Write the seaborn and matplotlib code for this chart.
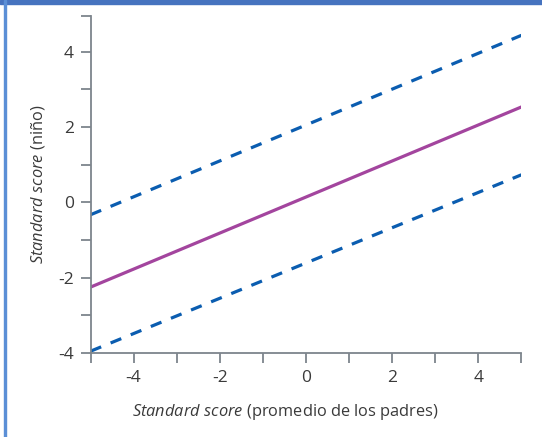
import pandas as pd
import matplotlib.pyplot as plt
import matplotlib.patches as mpatches
import seaborn as sns

# valores (extremos de cada recta)
padres = [-5, 5]
media = [-2.25, 2.53]
limite_sup = [-0.33, 4.43]
limite_inf = [-3.95, 0.73]

df = pd.DataFrame({
    "x": padres * 3,
    "y": media + limite_sup + limite_inf,
    "serie": ["media"] * 2 + ["sup"] * 2 + ["inf"] * 2,
})

sns.set_style("white")
plt.rcParams["font.family"] = ["Open Sans", "DejaVu Sans"]
plt.rcParams["mathtext.fontset"] = "custom"
plt.rcParams["mathtext.rm"] = "Open Sans"
plt.rcParams["mathtext.it"] = "Open Sans:italic"

fig = plt.figure(figsize=(5.42, 4.37), dpi=100)
ax = fig.add_axes([0.167, 0.192, 0.795, 0.772])

sns.lineplot(data=df, x="x", y="y", hue="serie", style="serie",
             palette={"media": "#a3459e", "sup": "#0b5db0", "inf": "#0b5db0"},
             dashes={"media": "", "sup": (3.6, 3.2), "inf": (3.6, 3.2)},
             linewidth=2.3, legend=False, ax=ax)

ax.set_xlim(-5, 5)
ax.set_ylim(-4, 4.95)
ax.set_xticks(range(-5, 6))
ax.set_xticklabels(["" if i % 2 else str(i) for i in range(-5, 6)])
ax.set_yticks(range(-4, 5))
ax.set_yticklabels(["" if i % 2 else str(i) for i in range(-4, 5)])
ax.set_yticks([4.95], minor=True)

gris = "#7d858c"
for s in ["top", "right"]:
    ax.spines[s].set_visible(False)
for s in ["left", "bottom"]:
    ax.spines[s].set_color(gris)
    ax.spines[s].set_linewidth(1.3)
ax.tick_params(axis="both", which="both", direction="out", length=7,
               width=1.3, color=gris, labelsize=12.5, labelcolor="#3a3a3a",
               pad=5, left=True, bottom=True)

ax.set_xlabel("$\\it{Standard\\ score}$ (promedio de los padres)",
              fontsize=11.8, color="#3a3a3a")
ax.set_ylabel("$\\it{Standard\\ score}$ (niño)", fontsize=11.8,
              color="#3a3a3a", labelpad=8)
ax.xaxis.set_label_coords(0.453, -0.145)

# marco azul de la figura
fig.patches.append(mpatches.Rectangle((0, 1 - 3.5 / 437), 1, 3.5 / 437,
                                      transform=fig.transFigure,
                                      color="#4673bf", zorder=5))
fig.patches.append(mpatches.Rectangle((4 / 542, 0), 2 / 542, 1,
                                      transform=fig.transFigure,
                                      color="#5b8fd6", zorder=5))

fig.savefig("out.png", dpi=100)
